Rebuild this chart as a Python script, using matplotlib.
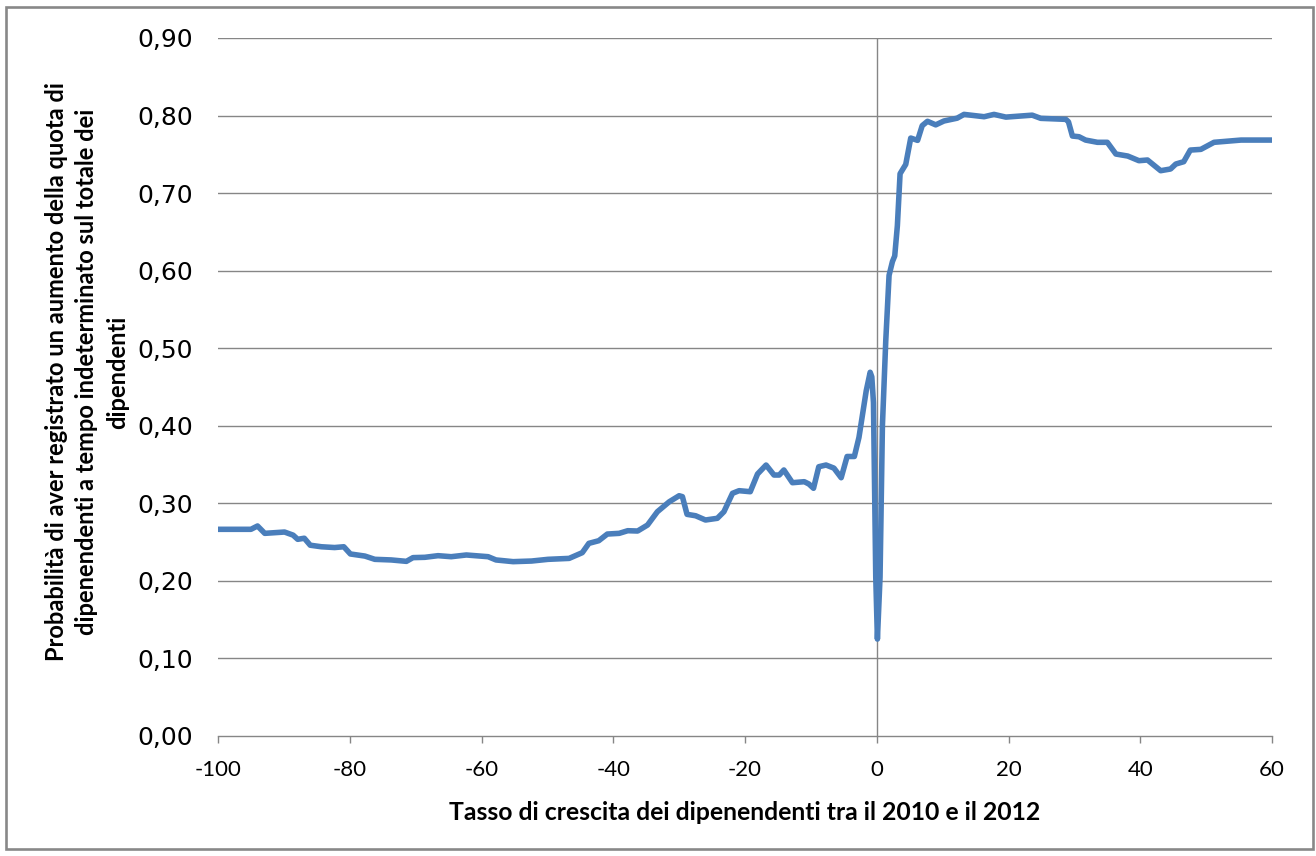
import matplotlib
matplotlib.use("Agg")
import matplotlib.pyplot as plt
from matplotlib.patches import Rectangle

# Growth rate of employees 2010-2012 (%) and estimated probability
growth = [-100, -95.0, -94.0, -92.9, -89.9, -88.6, -87.9, -86.9, -86.0, -84.3,
          -82.3, -80.9, -79.9, -77.7, -76.2, -73.7, -71.4, -70.4, -68.6, -66.6,
          -64.6, -62.3, -59.0, -57.8, -55.2, -52.4, -49.9, -46.7, -44.7, -43.7,
          -42.2, -40.9, -39.1, -37.8, -36.3, -34.8, -33.3, -31.5, -30.0, -29.5,
          -28.8, -27.5, -26.0, -24.2, -23.2, -21.9, -20.9, -19.2, -18.1, -16.8,
          -15.6, -14.8, -14.1, -12.8, -11.0, -10.3, -9.6, -8.8, -7.7, -6.5,
          -5.4, -4.5, -3.4, -2.7, -1.6, -1.0, -0.75, -0.5, -0.15, 0.1,
          0.5, 0.86, 1.37, 1.87, 2.38, 2.73, 3.13, 3.54, 4.4, 5.16,
          6.2, 6.9, 7.7, 8.95, 10.2, 12.2, 13.25, 16.3, 17.8, 19.6,
          23.6, 24.9, 28.7, 29.1, 29.7, 30.7, 31.7, 33.5, 35.0, 36.3,
          38.1, 39.8, 41.1, 43.1, 44.6, 45.4, 46.6, 47.6, 49.2, 51.2,
          55.3, 60]
probability = [0.2665, 0.2665, 0.2708, 0.2613, 0.2630, 0.2590, 0.2536, 0.2550, 0.2460, 0.2440,
               0.2430, 0.2440, 0.2347, 0.2320, 0.2278, 0.2270, 0.2252, 0.2300, 0.2304, 0.2325,
               0.2312, 0.2334, 0.2312, 0.2270, 0.2248, 0.2256, 0.2278, 0.2290, 0.2364, 0.2484,
               0.2518, 0.2604, 0.2613, 0.2647, 0.2643, 0.2720, 0.2892, 0.3020, 0.3098, 0.3086,
               0.2858, 0.2840, 0.2785, 0.2807, 0.2892, 0.3129, 0.3163, 0.3150, 0.3378, 0.3494,
               0.3365, 0.3365, 0.3430, 0.3266, 0.3279, 0.3249, 0.3194, 0.3472, 0.3494, 0.3454,
               0.3330, 0.3604, 0.3604, 0.3850, 0.4450, 0.4690, 0.4630, 0.4300, 0.2050, 0.1250,
               0.2050, 0.4000, 0.5100, 0.5940, 0.6117, 0.6190, 0.6580, 0.7250, 0.7370, 0.7710,
               0.7680, 0.7870, 0.7926, 0.7880, 0.7930, 0.7966, 0.8015, 0.7985, 0.8015, 0.7980,
               0.8005, 0.7964, 0.7951, 0.7920, 0.7736, 0.7727, 0.7684, 0.7655, 0.7655, 0.7504,
               0.7478, 0.7418, 0.7427, 0.7289, 0.7311, 0.7375, 0.7405, 0.7555, 0.7564, 0.7655,
               0.7684, 0.7684]

x_ticks = [-100, -80, -60, -40, -20, 0, 20, 40, 60]
y_ticks = [0.0, 0.1, 0.2, 0.3, 0.4, 0.5, 0.6, 0.7, 0.8, 0.9]
y_tick_labels = ["0,00", "0,10", "0,20", "0,30", "0,40", "0,50", "0,60", "0,70", "0,80", "0,90"]

x_title = "Tasso di crescita dei dipenendenti tra il 2010 e il 2012"
y_title = ("Probabilità di aver registrato un aumento della quota di\n"
           "dipenendenti a tempo indeterminato sul totale dei\n"
           "dipendenti")

grid_color = "#868686"
line_color = "#4A7EBB"

fig = plt.figure(figsize=(13.16, 8.56), dpi=100)
ax = fig.add_axes([218 / 1316, 1 - 736 / 856, (1272 - 218) / 1316, (736 - 38) / 856])

ax.plot(growth, probability, color=line_color, lw=4.0,
        solid_joinstyle="round", solid_capstyle="round", zorder=3)

ax.set_xlim(-100, 60)
ax.set_ylim(0, 0.9)

# horizontal gridlines and the vertical axis line at zero growth
for v in y_ticks[1:]:
    ax.axhline(v, color=grid_color, lw=1.0, zorder=1)
ax.axvline(0, color=grid_color, lw=1.0, zorder=1)

for side in ("left", "right", "top"):
    ax.spines[side].set_visible(False)
ax.spines["bottom"].set_color(grid_color)
ax.spines["bottom"].set_linewidth(1.0)

ax.set_xticks(x_ticks)
ax.set_xticklabels([str(t) for t in x_ticks], family="Lato", fontsize=16)
ax.tick_params(axis="x", direction="out", length=5, width=1.0, color=grid_color, pad=12)

ax.set_yticks(y_ticks)
ax.set_yticklabels(y_tick_labels, family="DejaVu Sans", fontsize=18)
ax.tick_params(axis="y", length=0, pad=18)

fig.text((218 + 1272) / 2 / 1316, 1 - 812 / 856, x_title,
         family="Lato", fontweight="bold", fontsize=17.8, ha="center", va="center")
fig.text(87 / 1316, 1 - 372 / 856, y_title, family="Lato", fontweight="bold",
         fontsize=17, rotation=90, ha="center", va="center",
         multialignment="center", linespacing=1.42)

# outer chart frame
fig.patches.append(Rectangle((6 / 1316, 7 / 856), 1307 / 1316, 842 / 856,
                             transform=fig.transFigure, fill=False,
                             edgecolor="#888888", lw=1.9))

fig.savefig("out.png", dpi=100)
